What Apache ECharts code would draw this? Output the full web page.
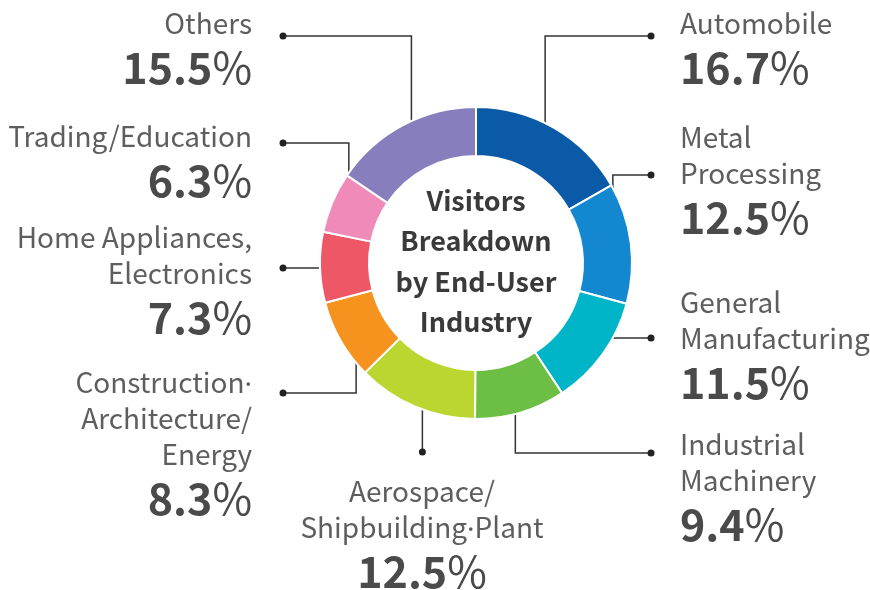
<!DOCTYPE html>
<html>
<head>
<meta charset="utf-8">
<script src="https://cdn.jsdelivr.net/npm/echarts@6/dist/echarts.min.js"></script>
<style>
  html, body { margin: 0; padding: 0; background: #fff; }
  #chart { width: 870px; height: 590px; }
</style>
</head>
<body>
<div id="chart"></div>
<script>
  // data
  const industries = [
    'Automobile',
    'Metal\nProcessing',
    'General\nManufacturing',
    'Industrial\nMachinery',
    'Aerospace/\nShipbuilding·Plant',
    'Construction·\nArchitecture/\nEnergy',
    'Home Appliances,\nElectronics',
    'Trading/Education',
    'Others'
  ]
  const shares = [16.7, 12.5, 11.5, 9.4, 12.5, 8.3, 7.3, 6.3, 15.5]
  const colors = ['#0a5aa8', '#1387cf', '#00b5c8', '#6cbf44', '#bcd631', '#f6921e', '#ee5866', '#f08bb9', '#877fbd']

  // layout of labels / leader lines
  const CX = 476
  const CY = 263
  const R_LEADER = 138
  const leaderEnds = [[651, 36], [651, 175], [651, 338], [651, 453], [0, 452], [283, 393], [283, 268], [283, 143], [283, 36]]
  const leaderModes = ['v', 'v', 'h', 'v', 'd', 'v', 'h', 'v', 'v']
  const labelAnchors = [
    [680, 5, 'left'], [680, 119, 'left'], [680, 284, 'left'], [680, 426, 'left'],
    [422, 473, 'center'],
    [252, 364, 'right'], [252, 219, 'right'], [252, 118, 'right'], [252, 5, 'right']
  ]

  const total = shares.reduce((a, b) => a + b, 0)

  function midAngle (i) {
    let before = 0
    for (let j = 0; j < i; j++) before += shares[j]
    return (before + shares[i] / 2) / total * Math.PI * 2
  }

  function leaderPoints (i) {
    const a = midAngle(i)
    const s = [CX + R_LEADER * Math.sin(a), CY - R_LEADER * Math.cos(a)]
    const e = leaderEnds[i]
    const mode = leaderModes[i]
    if (mode === 'h') return [[s[0], e[1]], [(s[0] + e[0]) / 2, e[1]], [e[0], e[1]]]
    if (mode === 'd') return [s, [s[0], (s[1] + e[1]) / 2], [s[0], e[1]]]
    return [s, [s[0], e[1]], [e[0], e[1]]]
  }

  const FONT = '"Noto Sans CJK KR", "Noto Sans", sans-serif'

  let myChart = echarts.init(document.getElementById('chart'))
  myChart.setOption({
    animation: false,
    title: {
      text: 'Visitors\nBreakdown\nby End-User\nIndustry',
      left: CX,
      top: 180,
      padding: 0,
      textAlign: 'center',
      textStyle: {
        fontFamily: FONT,
        fontSize: 27,
        fontWeight: 'bold',
        lineHeight: 40.5,
        color: '#3a3a3a'
      }
    },
    graphic: industries.map((n, i) => {
      const p = leaderPoints(i)[2]
      return {
        type: 'circle',
        shape: { cx: p[0], cy: p[1], r: 3.5 },
        style: { fill: '#222' },
        z: 10
      }
    }),
    series: [
      {
        type: 'pie',
        center: [CX, CY],
        radius: [107, 156],
        startAngle: 90,
        clockwise: true,
        avoidLabelOverlap: false,
        emphasis: { disabled: true },
        itemStyle: { borderColor: '#fff', borderWidth: 2 },
        data: shares.map((v, i) => ({
          value: v,
          name: industries[i],
          itemStyle: { color: colors[i] }
        })),
        label: {
          show: true,
          position: 'outside',
          fontFamily: FONT,
          formatter: function (p) {
            const lines = industries[p.dataIndex].split('\n').map(l => '{n|' + l.split('·').join('}{d|·}{n|') + '}')
            return lines.join('\n') + '\n{v|' + shares[p.dataIndex].toFixed(1) + '}{p|%}'
          },
          rich: {
            n: { fontFamily: FONT, fontSize: 28, lineHeight: 36, color: '#5e5e5e' },
            d: { fontFamily: '"Noto Sans", sans-serif', fontSize: 28, lineHeight: 36, padding: [9, 0, 0, 0], color: '#5e5e5e' },
            v: { fontFamily: FONT, fontSize: 43, lineHeight: 54, fontWeight: 'bold', color: '#4a4a4a' },
            p: { fontFamily: FONT, fontSize: 43, lineHeight: 54, color: '#4a4a4a' }
          }
        },
        labelLine: {
          show: true,
          lineStyle: { color: '#333', width: 1.5 }
        },
        labelLayout: function (params) {
          const i = params.dataIndex
          const a = labelAnchors[i]
          return {
            x: a[0],
            y: a[1],
            align: a[2],
            verticalAlign: 'top',
            labelLinePoints: leaderPoints(i)
          }
        }
      }
    ]
  })
</script>
</body>
</html>
